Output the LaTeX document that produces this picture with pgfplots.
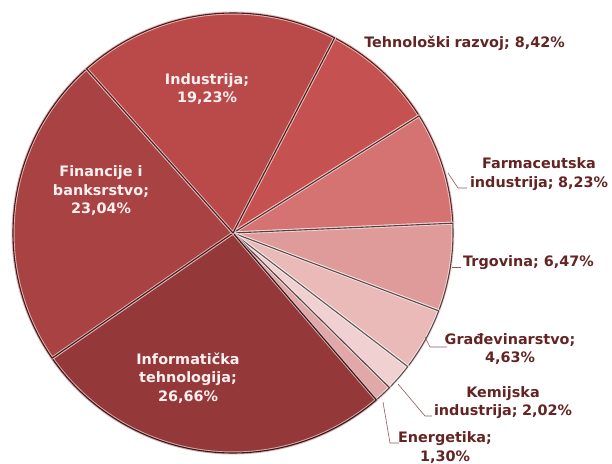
\documentclass[border=0pt]{standalone}
\usepackage{fontspec}
\setmainfont{DejaVu Sans}
\usepackage{pgfplots}
\usepackage{pgfplotstable}
\pgfplotsset{compat=1.18}

\definecolor{cTeh}{RGB}{197,82,80}
\definecolor{cFar}{RGB}{212,115,114}
\definecolor{cTrg}{RGB}{222,155,154}
\definecolor{cGra}{RGB}{234,186,185}
\definecolor{cKem}{RGB}{240,208,208}
\definecolor{cEne}{RGB}{224,168,168}
\definecolor{cInf}{RGB}{149,56,57}
\definecolor{cFin}{RGB}{169,66,66}
\definecolor{cInd}{RGB}{186,74,74}
\definecolor{txtout}{RGB}{99,36,35}
\definecolor{txtin}{RGB}{253,240,240}
\definecolor{leader}{RGB}{140,90,90}

\tikzset{lbl/.style={font=\bfseries\fontsize{14.4bp}{18.5bp}\selectfont, align=center, inner sep=0pt}}
\newcommand{\wsp}{\hskip0.3em\relax}

% shares in percent, clockwise from the start angle
\pgfplotstableread{
name pct
Teh 8.42
Far 8.23
Trg 6.47
Gra 4.63
Kem 2.02
Ene 1.30
Inf 26.66
Fin 23.04
Ind 19.23
}\piedata

\def\startangle{27.5}
\def\cx{233}
\def\cy{233}
\def\R{220}

\begin{document}
\begin{tikzpicture}
\begin{axis}[
  scale only axis, width=612bp, height=464bp,
  xmin=0, xmax=612, ymin=0, ymax=464, y dir=reverse,
  hide axis, clip=false,
]
\pgfmathsetmacro{\acc}{\startangle}
\pgfplotstablegetrowsof{\piedata}
\pgfmathtruncatemacro{\nrows}{\pgfplotsretval-1}
\pgfplotsforeachungrouped \i in {0,...,\nrows}{%
  \pgfplotstablegetelem{\i}{pct}\of{\piedata}\let\val\pgfplotsretval
  \pgfplotstablegetelem{\i}{name}\of{\piedata}\let\nm\pgfplotsretval
  \pgfmathsetmacro{\aend}{\acc+3.6*\val}%
  \edef\temp{\noexpand\addplot[draw=none, fill=c\nm, domain=\acc:\aend, samples=80, variable=\noexpand\t]
    ({\cx+\R*sin(\noexpand\t)},{\cy-\R*cos(\noexpand\t)}) -- (axis cs:\cx,\cy) -- cycle;}%
  \temp
  \edef\temp{\noexpand\addplot[draw=c\nm!40!white, line width=3bp, line join=round, domain=\acc:\aend, samples=80, variable=\noexpand\t]
    ({\cx+\R*sin(\noexpand\t)},{\cy-\R*cos(\noexpand\t)}) -- (axis cs:\cx,\cy) -- cycle;}%
  \temp
  \edef\temp{\noexpand\addplot[draw=c\nm!40!black, line width=1.1bp, line join=round, domain=\acc:\aend, samples=80, variable=\noexpand\t]
    ({\cx+\R*sin(\noexpand\t)},{\cy-\R*cos(\noexpand\t)}) -- (axis cs:\cx,\cy) -- cycle;}%
  \temp
  \global\let\acc\aend
}

% inner labels
\node[lbl, text=txtin] at (axis cs:207,89) {Industrija;\\19,23\%};
\node[lbl, text=txtin] at (axis cs:101,191) {Financije i\\banksrstvo;\\23,04\%};
\node[lbl, text=txtin] at (axis cs:188,378) {Informatička\\tehnologija;\\26,66\%};
% outer labels
\node[lbl, text=txtout] at (axis cs:464.5,43) {Tehnološki\wsp razvoj; 8,42\%};
\node[lbl, text=txtout] at (axis cs:539,174) {Farmaceutska\\industrija;\wsp 8,23\%};
\node[lbl, text=txtout] at (axis cs:528.5,263) {Trgovina; 6,47\%};
\node[lbl, text=txtout] at (axis cs:510,349) {Građevinarstvo;\\4,63\%};
\node[lbl, text=txtout] at (axis cs:503,402.5) {Kemijska\\industrija;\wsp 2,02\%};
\node[lbl, text=txtout] at (axis cs:445,447.5) {Energetika;\\1,30\%};
% leader lines
\draw[leader, line width=0.6bp] (axis cs:448,173) -- (axis cs:458,188) -- (axis cs:467,188);
\draw[leader, line width=0.6bp] (axis cs:452,267) -- (axis cs:461,267);
\draw[leader, line width=0.6bp] (axis cs:425,337) -- (axis cs:430,347) -- (axis cs:447,347);
\draw[leader, line width=0.6bp] (axis cs:398,384) -- (axis cs:425,416) -- (axis cs:432,416);
\draw[leader, line width=0.6bp] (axis cs:383,402) -- (axis cs:390,443) -- (axis cs:399,443);
\end{axis}
\pgfresetboundingbox
\path (0,0) rectangle (612bp,464bp);
\end{tikzpicture}
\end{document}
